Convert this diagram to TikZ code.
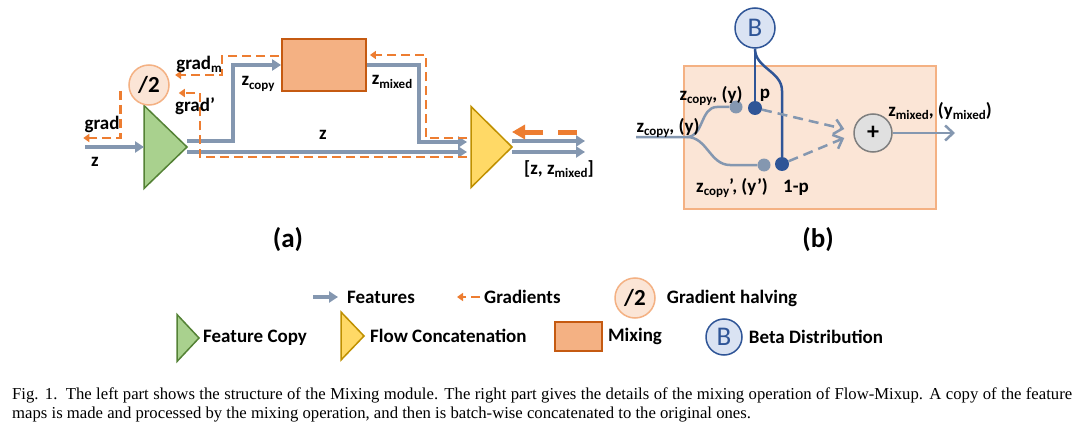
\documentclass[tikz,border=0pt]{standalone}
\usepackage{fontspec}
\setmainfont{Carlito}
\newfontfamily\capfont{Liberation Serif}
\usepackage{xcolor}
\usepackage{tikz}
\usetikzlibrary{arrows.meta, positioning, shapes.geometric, calc}

\definecolor{featc}{HTML}{8497B0}
\definecolor{gradc}{HTML}{ED7D31}
\definecolor{greenf}{HTML}{A9D18E}
\definecolor{greend}{HTML}{548235}
\definecolor{yellowf}{HTML}{FFD966}
\definecolor{yellowd}{HTML}{BF9000}
\definecolor{mixf}{HTML}{F4B183}
\definecolor{mixd}{HTML}{C55A11}
\definecolor{halff}{HTML}{FBE5D6}
\definecolor{halfd}{HTML}{F4B183}
\definecolor{bluef}{HTML}{DAE3F3}
\definecolor{blued}{HTML}{2F5597}
\definecolor{plusf}{HTML}{E0E0E0}
\definecolor{plusd}{HTML}{7F7F7F}

\newcommand{\lo}[1]{\raisebox{-0.35ex}{\fontsize{13}{13}\selectfont #1}}

\begin{document}
\begin{tikzpicture}[
x=1pt, y=-1pt,
lbl/.style={font=\fontsize{19}{22}\selectfont\bfseries, inner sep=0pt},
big/.style={font=\fontsize{27}{30}\selectfont\bfseries, inner sep=0pt},
feat/.style={draw=featc, line width=4pt, -{Triangle[length=9pt,width=11pt]}},
grad/.style={draw=gradc, line width=2.5pt, dash pattern=on 9pt off 5pt, -{Triangle[length=6pt,width=8pt]}},
thinf/.style={draw=featc, line width=2.5pt},
thinarr/.style={thinf, -{Straight Barb[length=8pt,width=15pt]}},
mixarr/.style={thinarr, dash pattern=on 10pt off 6pt},
bline/.style={draw=blued, line width=2.5pt},
fcopy/.style={isosceles triangle, isosceles triangle stretches, draw=greend, fill=greenf, line width=1.5pt, inner sep=0pt, outer sep=0pt, anchor=apex},
fcat/.style={fcopy, draw=yellowd, fill=yellowf},
mixbox/.style={rectangle, draw=mixd, fill=mixf, line width=1.8pt},
halve/.style={circle, minimum size=40pt, inner sep=0pt, draw=halfd, fill=halff, line width=1.5pt, font=\fontsize{23}{26}\selectfont\bfseries},
beta/.style={circle, minimum size=40pt, inner sep=0pt, draw=blued, fill=bluef, line width=1.5pt, text=blued, font=\fontsize{27}{30}\selectfont},
plus/.style={circle, minimum size=38pt, inner sep=0pt, draw=plusd, fill=plusf, line width=1.5pt, font=\fontsize{24}{26}\selectfont\bfseries},
gdot/.style={circle, fill=featc, minimum size=13pt, inner sep=0pt},
bdot/.style={circle, fill=blued, minimum size=14pt, inner sep=0pt}
]
\fill[white] (0,0) rectangle (1080,428);
\useasboundingbox (0,0) rectangle (1080,428);

% (a) mixing module
\node[mixbox, minimum width=84pt, minimum height=52pt] (mix) at (324,65) {};
\node[fcopy, minimum height=43pt, minimum width=83pt] (copy) at (187,147) {};
\node[fcat, minimum height=41pt, minimum width=81pt] (cat) at (512,147) {};
\node[halve] (half) at (149,85) {/2};
\coordinate (zin) at (85,147);
\coordinate (outa) at (585,141);
\coordinate (outb) at (585,152);
\coordinate (gin) at (577,132);

\draw[feat] (zin) -- (copy.west);
\draw[feat] ($(copy.apex)+(0,-6)$) -- ++(46,0) |- (mix.west);
\draw[feat] ($(copy.apex)+(0,5)$) -- ($(cat.west)+(-4,5)$);
\draw[feat] (mix.east) -- ++(52,0) |- ($(cat.west)+(-4,-5)$);
\draw[feat] ($(cat.apex)+(0,-6)$) -- (outa);
\draw[feat] ($(cat.apex)+(0,5)$) -- (outb);

\draw[grad] ($(cat.west)+(-4,10)$) -| ($(half.east)+(30,8)$) -- ++(-21,0);
\draw[grad] ($(mix.west)+(-2,-9)$) -| ++(-57,19) -- ++(-47,0);
\draw[grad] ($(cat.west)+(-4,-9)$) -| ($(mix.east)+(59,-10)$) -- ($(mix.east)+(3,-10)$);
\draw[grad] ($(half.west)+(-8,6)$) -- ++(0,47) -- ++(-37,0);
\draw[draw=gradc, line width=5pt, dash pattern=on 19pt off 15pt, -{Triangle[length=13pt,width=14pt]}] (gin) -- ($(cat.apex)+(0,-15)$);

\node[lbl] (lgrad) at (102,124) {grad};
\node[lbl] (lz) at (95,162) {z};
\node[lbl] (lgradm) at (199,64) {grad\lo{m}};
\node[lbl] (lgradp) at (195,106) {grad’};
\node[lbl] (lzcopy) at (258,84) {z\lo{copy}};
\node[lbl] (lzmix) at (392,82) {z\lo{mixed}};
\node[lbl] (lzmid) at (323,135) {z};
\node[lbl] (lzout) at (559,169) {[z, z\lo{mixed}]};
\node[big] (capa) at (288,240) {(a)};

% (b) mixing operation
\node[rectangle, draw=halfd, fill=halff, line width=1.5pt, minimum width=252pt, minimum height=143pt] (panel) at (810,137.5) {};
\node[beta] (beta) at (755,28) {B};
\node[plus] (sum) at (873,133) {+};
\coordinate (zcin) at (636,137);
\coordinate (split) at (687,137);
\coordinate (zmout) at (955,133);
\node[gdot] (g1) at (736,107) {};
\node[gdot] (g2) at (764,165) {};
\node[bdot] (p1) at (755,108) {};
\node[bdot] (p2) at (782,164) {};

\draw[thinf] (zcin) -- (split) to[out=0,in=180] ++(30,-30) -- (g1);
\draw[thinf] (split) to[out=0,in=180] ++(43,28) -- (g2);
\draw[bline] (beta.south) -- (p1);
\draw[bline] (beta.south) to[out=-90,in=90] ++(27,42) -- (p2);
\draw[mixarr] (p1) -- ($(sum.west)+(-9,-4)$);
\draw[mixarr] (p2) -- ($(sum.west)+(-9,5)$);
\draw[thinarr] (sum) -- (zmout);

\node[lbl] (lin) at (668,128) {z\lo{copy}, (y)};
\node[lbl] (lup) at (711,96) {z\lo{copy}, (y)};
\node[lbl] (lp) at (765,95) {p};
\node[lbl] (ldown) at (732,188) {z\lo{copy}’, (y’)};
\node[lbl] (lq) at (796,188) {1-p};
\node[lbl] (lout) at (940,111) {z\lo{mixed}, (y\lo{mixed})};
\node[big] (capb) at (818,240) {(b)};

% legend
\node[lbl, anchor=west] (lfeat) at (347,297) {Features};
\draw[feat] ($(lfeat.west)+(-34,0)$) -- ($(lfeat.west)+(-9,0)$);
\node[lbl, anchor=west] (lgr) at (484,297) {Gradients};
\draw[grad] ($(lgr.west)+(-4,0)$) -- ($(lgr.west)+(-27,0)$);
\node[halve] (lhalf) at (635,298) {/2};
\node[lbl, right=11pt of lhalf] (lhalft) {Gradient halving};
\node[fcopy, minimum height=22pt, minimum width=47pt] (lcopy) at (199,338) {};
\node[lbl, right=4pt of lcopy.apex] (lcopyt) {Feature Copy};
\node[fcat, minimum height=23pt, minimum width=48pt] (lcat) at (364,336) {};
\node[lbl, right=6pt of lcat.apex] (lcatt) {Flow Concatenation};
\node[mixbox, minimum width=47pt, minimum height=29pt] (lmix) at (578.5,336.5) {};
\node[lbl, right=5pt of lmix] (lmixt) {Mixing};
\node[beta, minimum size=36pt] (lbeta) at (724,337) {B};
\node[lbl, right=6pt of lbeta] (lbetat) {Beta Distribution};

% caption
\node[anchor=north west, text width=1060pt, align=justify, inner sep=0pt, font=\capfont\fontsize{16.7}{18.5}\selectfont] (cap) at (12,388) {Fig. 1.\enspace The left part shows the structure of the Mixing module. The right part gives the details of the mixing operation of Flow-Mixup. A copy of the feature\linebreak maps is made and processed by the mixing operation, and then is batch-wise concatenated to the original ones.};

\end{tikzpicture}
\end{document}
